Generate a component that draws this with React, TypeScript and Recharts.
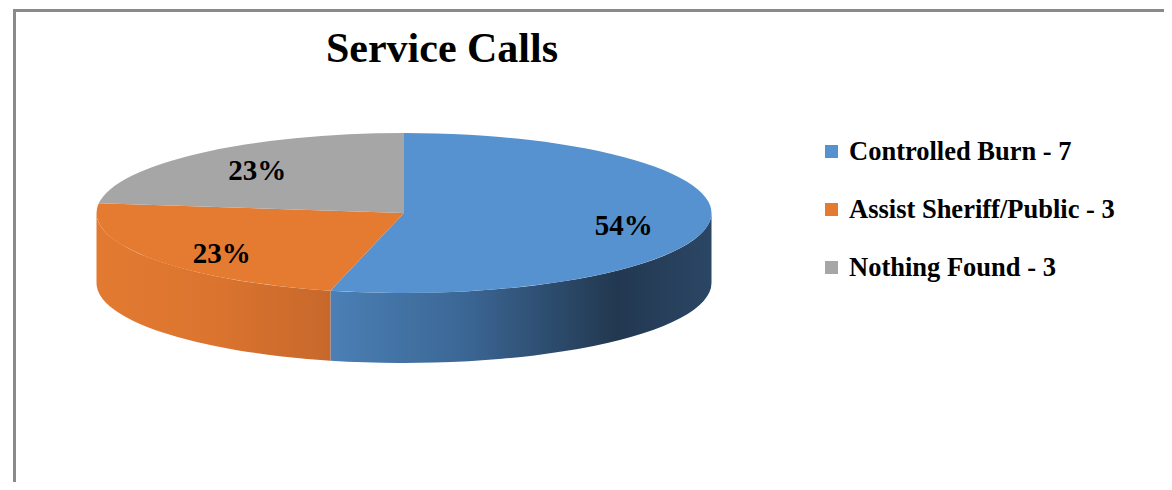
import { PieChart, Pie, Legend } from 'recharts';

const categories = ['Controlled Burn', 'Assist Sheriff/Public', 'Nothing Found'];
const counts = [7, 3, 3];
const sliceColors = ['#5692cf', '#e57a31', '#a6a6a6'];

const chartData = categories.map((name, i) => ({ name, value: counts[i], fill: sliceColors[i] }));

const FONT = "'Times New Roman', 'Liberation Serif', serif";
const RAD = Math.PI / 180;
const TILT = 0.26; // vertical squash of the pie top
const DEPTH = 70; // thickness of the 3d pie

// wall gradients (light -> dark) per slice
const sideStops = [
  [['0%', '#4b7fb5'], ['35%', '#3b6795'], ['75%', '#223850'], ['100%', '#2b4665']],
  [['0%', '#e27a31'], ['50%', '#db742f'], ['100%', '#c7682b']],
  [['0%', '#8f8f8f'], ['100%', '#6f6f6f']],
];

function renderSlice(props: any) {
  const { cx, cy, outerRadius: r, startAngle, endAngle, fill, index } = props;
  const ry = r * TILT;
  const pt = (a: number, dy = 0) => [cx + r * Math.cos(a * RAD), cy - ry * Math.sin(a * RAD) + dy];
  const hi0 = Math.max(startAngle, endAngle);
  const lo0 = Math.min(startAngle, endAngle);
  const [sx, sy] = pt(hi0);
  const [ex, ey] = pt(lo0);
  const large = hi0 - lo0 > 180 ? 1 : 0;
  const top = `M${cx},${cy} L${sx},${sy} A${r},${ry} 0 ${large} 1 ${ex},${ey} Z`;

  // front wall: the part of the rim facing the viewer (angles between -180 and 0)
  const walls: string[] = [];
  for (const k of [-1, 0, 1]) {
    const lo = Math.max(lo0, -180 + 360 * k);
    const hi = Math.min(hi0, 360 * k);
    if (lo < hi) {
      const [ax, ay] = pt(hi);
      const [bx, by] = pt(lo);
      const [cx2, cy2] = pt(lo, DEPTH);
      const [dx, dy] = pt(hi, DEPTH);
      walls.push(
        `M${ax},${ay} A${r},${ry} 0 0 1 ${bx},${by} L${cx2},${cy2} A${r},${ry} 0 0 0 ${dx},${dy} Z`,
      );
    }
  }

  return (
    <g>
      {walls.map((d, i) => (
        <path key={i} d={d} fill={`url(#side-${index})`} />
      ))}
      <path d={top} fill={fill} />
    </g>
  );
}

function renderLabel(props: any) {
  const { cx, cy, midAngle, outerRadius: r, percent } = props;
  const x = cx + r * 0.72 * Math.cos(midAngle * RAD);
  const y = cy - r * TILT * 0.79 * Math.sin(midAngle * RAD) + 4;
  return (
    <text
      x={x}
      y={y}
      textAnchor="middle"
      dominantBaseline="central"
      fontFamily={FONT}
      fontWeight="bold"
      fontSize={29}
      fill="#000"
    >
      {`${Math.round(percent * 100)}%`}
    </text>
  );
}

function LegendBox({ payload }: any) {
  // keep the data order (recharts sorts legend items by name)
  const items = [...(payload || [])].sort(
    (a: any, b: any) => categories.indexOf(a.value) - categories.indexOf(b.value),
  );
  return (
    <div style={{ fontFamily: FONT, fontWeight: 'bold', fontSize: 26.5, color: '#000' }}>
      {items.map((entry: any, i: number) => (
        <div key={i} style={{ display: 'flex', alignItems: 'center', height: 58 }}>
          <span
            style={{ width: 13, height: 13, background: entry.color, marginRight: 11, display: 'inline-block' }}
          />
          <span>{`${entry.value} - ${entry.payload.value}`}</span>
        </div>
      ))}
    </div>
  );
}

export default function App() {
  return (
    <div style={{ position: 'relative', margin: -8, width: 1172, height: 490, overflow: 'hidden', background: '#fff' }}>
      <div
        style={{
          position: 'absolute',
          left: 13,
          top: 9,
          width: 2000,
          height: 1000,
          borderLeft: '3px solid #8a8a8a',
          borderTop: '3px solid #8a8a8a',
        }}
      />
      <div
        style={{
          position: 'absolute',
          left: 242,
          width: 400,
          top: 23,
          textAlign: 'center',
          fontFamily: FONT,
          fontWeight: 'bold',
          fontSize: 42,
          lineHeight: '50px',
          color: '#000',
        }}
      >
        Service Calls
      </div>
      <div style={{ position: 'absolute', left: 0, top: 0 }}>
        <PieChart width={1172} height={490} margin={{ top: 0, right: 0, bottom: 0, left: 0 }}>
          <defs>
            {sideStops.map((stops, i) => (
              <linearGradient key={i} id={`side-${i}`} x1="0" y1="0" x2="1" y2="0">
                {stops.map(([o, c]) => (
                  <stop key={o} offset={o} stopColor={c} />
                ))}
              </linearGradient>
            ))}
          </defs>
          <Pie
            data={chartData}
            dataKey="value"
            nameKey="name"
            cx={404}
            cy={213}
            outerRadius={307.5}
            startAngle={90}
            endAngle={-270}
            stroke="none"
            shape={renderSlice}
            inactiveShape={renderSlice}
            activeShape={renderSlice}
            label={renderLabel}
            labelLine={false}
            isAnimationActive={false}
          />
          <Legend
            layout="vertical"
            content={<LegendBox />}
            wrapperStyle={{ position: 'absolute', left: 825, top: 122, width: 340 }}
          />
        </PieChart>
      </div>
    </div>
  );
}
